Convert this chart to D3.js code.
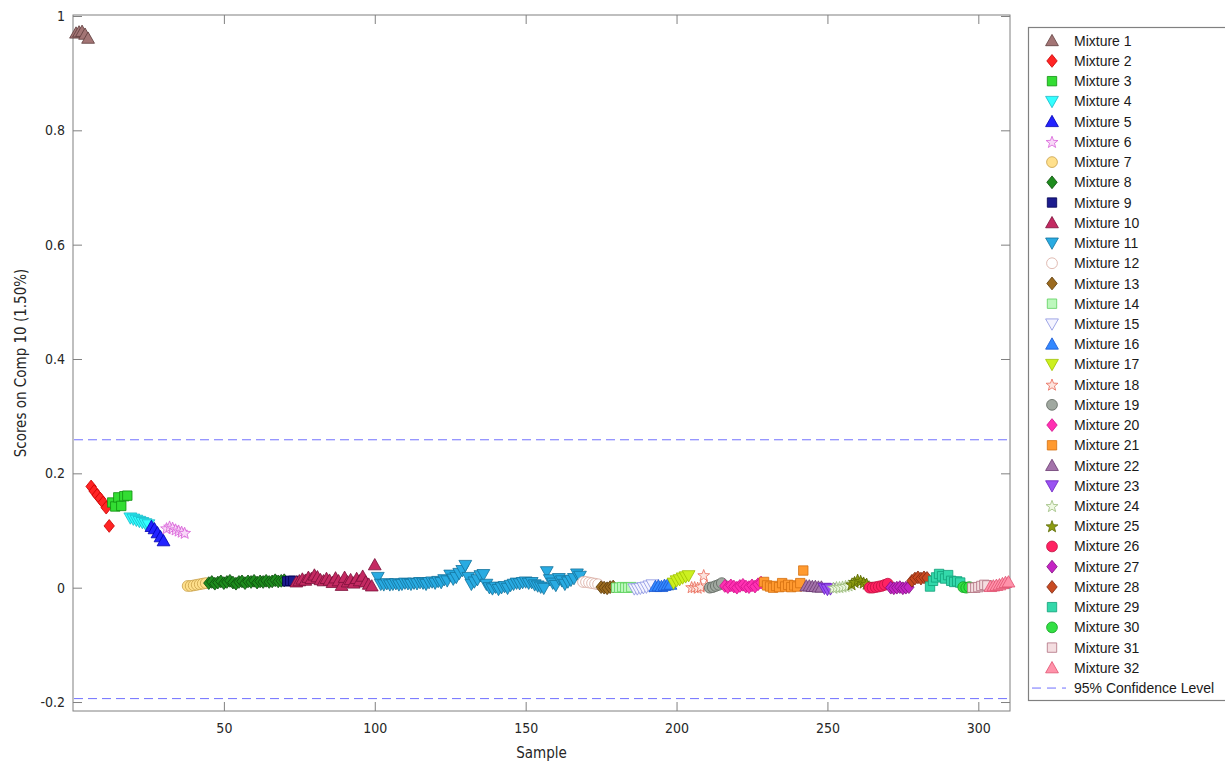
<!DOCTYPE html>
<html>
<head>
<meta charset="utf-8">
<script src="https://cdn.jsdelivr.net/npm/d3@7"></script>
<style>
  html, body { margin: 0; padding: 0; background: #fff; }
  svg { display: block; }
  .tick text { font-family: "Liberation Sans Narrow", "DejaVu Sans Condensed", "Roboto Condensed", "Open Sans", sans-serif; font-stretch: condensed; }
</style>
</head>
<body>
<svg id="chart" width="1225" height="766"></svg>
<script>
// Scores on component 10 for each sample, grouped by mixture (samples are numbered consecutively)
const mixtureNames = d3.range(1, 33).map(i => "Mixture " + i);

const mix1  = [0.970, 0.972, 0.973, 0.968, 0.961];
const mix2  = [0.177, 0.169, 0.162, 0.156, 0.149, 0.140, 0.108];
const mix3  = [0.149, 0.142, 0.158, 0.143, 0.160, 0.161];
const mix4  = [0.122, 0.120, 0.118, 0.116, 0.114, 0.112, 0.110];
const mix5  = [0.107, 0.103, 0.096, 0.089, 0.082];
const mix6  = [0.104, 0.107, 0.105, 0.102, 0.100, 0.098, 0.096];
const mix7  = [0.003, 0.003, 0.004, 0.005, 0.006, 0.007, 0.008];
const mix8  = [0.008, 0.010, 0.007, 0.009, 0.011, 0.008, 0.010, 0.012, 0.009, 0.007, 0.010, 0.011, 0.008,
               0.011, 0.010, 0.012, 0.009, 0.011, 0.010, 0.012, 0.010, 0.011, 0.013, 0.011, 0.012, 0.013];
const mix9  = [0.011, 0.012, 0.012];
const mix10 = [0.010, 0.012, 0.015, 0.013, 0.018, 0.016, 0.022, 0.019, 0.014, 0.012, 0.016, 0.013, 0.009, 0.017,
               0.012, 0.004, 0.018, 0.010, 0.014, 0.008, 0.016, 0.012, 0.020, 0.010, 0.006, 0.003, 0.040];
const mix11 = [0.018,
               0.006, 0.005, 0.007, 0.005, 0.006, 0.007, 0.005, 0.006, 0.008, 0.007, 0.006, 0.008, 0.007, 0.009,
               0.008, 0.006, 0.009, 0.010, 0.008,
               0.011, 0.009, 0.014, 0.012, 0.022, 0.015, 0.018, 0.025, 0.030, 0.039, 0.018,
               0.006, 0.010, 0.014, 0.021, 0.023, 0.006, 0.000, -0.002, 0.001, -0.003, 0.000, 0.002, -0.001,
               0.004, 0.006, 0.008, 0.007, 0.009, 0.010, 0.008, 0.009, 0.005, 0.003, 0.001, -0.001, 0.028,
               0.014, 0.008, 0.004, 0.016, 0.012, 0.006, 0.010, 0.013, 0.016, 0.024, 0.020];
const mix12 = [0.010, 0.010, 0.009, 0.008, 0.007, 0.006];
const mix13 = [0.001, 0.000, -0.001, 0.001, 0.002];
const mix14 = [0.000, 0.000, 0.001, 0.000, 0.000, 0.001];
const mix15 = [-0.002, -0.002, -0.001, 0.000, 0.001, 0.003, 0.005];
const mix16 = [0.002, 0.003, 0.002, 0.004, 0.005, 0.006];
const mix17 = [0.008, 0.012, 0.014, 0.017, 0.019, 0.021];
const mix18 = [0.001, 0.001, 0.000, 0.002, 0.022, 0.004];
const mix19 = [0.000, 0.001, 0.003, 0.005, 0.008];
const mix20 = [0.003, 0.001, 0.004, 0.002, 0.000, 0.003, 0.005, 0.002, 0.001, 0.004, 0.002, 0.006, 0.009];
const mix21 = [0.010, 0.004, 0.002, 0.000, 0.003, 0.001, 0.008, 0.002, 0.005, 0.001, 0.004, 0.002, 0.008, 0.030];
const mix22 = [0.003, 0.003, 0.002, 0.002, 0.001, 0.001];
const mix23 = [-0.001, -0.003, -0.002];
const mix24 = [0.000, 0.001, 0.001, 0.002, 0.003, 0.004];
const mix25 = [0.006, 0.010, 0.014, 0.012, 0.009, 0.007];
const mix26 = [0.000, 0.000, 0.001, 0.002, 0.003, 0.005, 0.007];
const mix27 = [0.000, -0.001, 0.000, 0.001, -0.001, 0.000, 0.001];
const mix28 = [0.012, 0.016, 0.018, 0.016, 0.018, 0.017];
const mix29 = [0.002, 0.012, 0.018, 0.024, 0.020, 0.016, 0.022, 0.012, 0.010, 0.011, 0.009];
const mix30 = [0.001, 0.000, 0.001];
const mix31 = [0.000, 0.000, 0.001, 0.003, 0.005, 0.004];
const mix32 = [0.002, 0.003, 0.004, 0.005, 0.007, 0.009, 0.010];

const mixtureScores = [mix1, mix2, mix3, mix4, mix5, mix6, mix7, mix8, mix9, mix10, mix11, mix12, mix13, mix14,
  mix15, mix16, mix17, mix18, mix19, mix20, mix21, mix22, mix23, mix24, mix25, mix26, mix27, mix28, mix29,
  mix30, mix31, mix32];

// 95% confidence limits
const confidenceLimits = [0.2587, -0.194];
const confidenceLabel = "95% Confidence Level";

const xTicks = [50, 100, 150, 200, 250, 300];
const yTicks = [-0.2, 0, 0.2, 0.4, 0.6, 0.8, 1];
const yTickLabels = ["-0.2", "0", "0.2", "0.4", "0.6", "0.8", "1"];

// marker style per mixture: [shape, fill, stroke]
const markerStyles = [
  ["tri",   "#a37575", "#5e3c3c"],
  ["dia",   "#ff2424", "#c80000"],
  ["sq",    "#33dd33", "#129012"],
  ["tridn", "#33ffff", "#1ab8c8"],
  ["tri",   "#2323ff", "#0000b0"],
  ["star",  "#f8d8f8", "#d860d8"],
  ["circ",  "#ffe08c", "#c8a048"],
  ["dia",   "#1e8c1e", "#0b4a0b"],
  ["sq",    "#1c1c8e", "#000050"],
  ["tri",   "#c42a62", "#7a0f38"],
  ["tridn", "#29abe2", "#13729c"],
  ["circ",  "#ffffff", "#d8aaa0"],
  ["dia",   "#9b6a1f", "#5a3a08"],
  ["sq",    "#bdf8bd", "#5cd05c"],
  ["tridn", "#f4f4ff", "#8890e0"],
  ["tri",   "#3388ff", "#1a58d0"],
  ["tridn", "#ccf020", "#9ec000"],
  ["star",  "#fde4de", "#e86a58"],
  ["circ",  "#a0a8a0", "#5e665e"],
  ["dia",   "#ff30b2", "#d0108a"],
  ["sq",    "#ff9a30", "#d47010"],
  ["tri",   "#a373aa", "#6a3a70"],
  ["tridn", "#9a52f2", "#6a20c0"],
  ["star",  "#eef8e2", "#9cbc7c"],
  ["star",  "#8c9c12", "#5a6a00"],
  ["circ",  "#ff2262", "#c01040"],
  ["dia",   "#c424c4", "#801080"],
  ["dia",   "#c84a22", "#802a10"],
  ["sq",    "#33d8aa", "#10a078"],
  ["circ",  "#33e044", "#10a020"],
  ["sq",    "#f4dde0", "#b07080"],
  ["tri",   "#ff92aa", "#e05070"]
];

function markerPath(shape) {
  switch (shape) {
    case "tri":   return "M0,-6.3L6.4,5L-6.4,5Z";
    case "tridn": return "M0,6.3L6.4,-5L-6.4,-5Z";
    case "dia":   return "M0,-6.4L5.2,0L0,6.4L-5.2,0Z";
    case "sq":    return "M-4.7,-4.7H4.7V4.7H-4.7Z";
    case "circ":  return d3.arc()({innerRadius: 0, outerRadius: 5.4, startAngle: 0, endAngle: 2 * Math.PI});
    case "star": {
      const pts = d3.range(10).map(i => {
        const r = i % 2 === 0 ? 6.2 : 2.6;
        const a = -Math.PI / 2 + i * Math.PI / 5;
        return [r * Math.cos(a), r * Math.sin(a) + 0.6];
      });
      return "M" + pts.map(p => p[0].toFixed(2) + "," + p[1].toFixed(2)).join("L") + "Z";
    }
  }
}

// flatten into consecutive samples
const points = [];
let sample = 1;
mixtureScores.forEach((vals, m) => {
  vals.forEach(v => { points.push({sample: sample++, score: v, mix: m}); });
});

const svg = d3.select("#chart");
const plot = {left: 73, right: 1010, top: 15, bottom: 711};

const x = d3.scaleLinear().domain([0, 310.5]).range([plot.left, plot.right]);
const y = d3.scaleLinear().domain([-0.2157, 1.0017]).range([plot.bottom, plot.top]);

const axisColor = "#808080";
const tickLen = 9;

// axes with inward ticks
const gx = svg.append("g").attr("transform", `translate(0,${plot.bottom})`)
  .call(d3.axisBottom(x).tickValues(xTicks).tickSize(-tickLen).tickSizeOuter(0).tickPadding(12).tickFormat(d3.format("d")));
const gy = svg.append("g").attr("transform", `translate(${plot.left},0)`)
  .call(d3.axisLeft(y).tickValues(yTicks).tickSize(-tickLen).tickSizeOuter(0).tickPadding(8)
    .tickFormat((d, i) => yTickLabels[i]));
const gxTop = svg.append("g").attr("transform", `translate(0,${plot.top})`)
  .call(d3.axisTop(x).tickValues(xTicks).tickSize(-tickLen).tickSizeOuter(0).tickFormat(""));
const gyRight = svg.append("g").attr("transform", `translate(${plot.right},0)`)
  .call(d3.axisRight(y).tickValues(yTicks).tickSize(-tickLen).tickSizeOuter(0).tickFormat(""));

[gx, gy, gxTop, gyRight].forEach(g => {
  g.select(".domain").remove();
  g.selectAll(".tick line").attr("stroke", axisColor);
  g.selectAll(".tick text").attr("fill", "#262626").attr("font-size", 14);
});

svg.append("rect")
  .attr("x", plot.left).attr("y", plot.top)
  .attr("width", plot.right - plot.left).attr("height", plot.bottom - plot.top)
  .attr("fill", "none").attr("stroke", axisColor).attr("stroke-width", 1);

// confidence limit lines
svg.append("g").selectAll("line").data(confidenceLimits).join("line")
  .attr("x1", plot.left + 1).attr("x2", plot.right - 1)
  .attr("y1", d => y(d)).attr("y2", d => y(d))
  .attr("stroke", "#7070ff").attr("stroke-width", 1)
  .attr("stroke-dasharray", "9,5");

// sample markers
svg.append("g").selectAll("path").data(points).join("path")
  .attr("transform", d => `translate(${x(d.sample)},${y(d.score)})`)
  .attr("d", d => markerPath(markerStyles[d.mix][0]))
  .attr("fill", d => markerStyles[d.mix][1])
  .attr("stroke", d => markerStyles[d.mix][2])
  .attr("stroke-width", 0.8);

// axis titles
const titleFont = '"Liberation Sans Narrow", "DejaVu Sans Condensed", "Open Sans", sans-serif';
svg.append("text")
  .attr("x", (plot.left + plot.right) / 2).attr("y", 758)
  .attr("text-anchor", "middle")
  .attr("font-family", titleFont).attr("font-stretch", "condensed").attr("font-size", 15).attr("fill", "#262626")
  .text("Sample");
svg.append("text")
  .attr("transform", `translate(26,${(plot.top + plot.bottom) / 2}) rotate(-90)`)
  .attr("text-anchor", "middle")
  .attr("font-family", titleFont).attr("font-stretch", "condensed").attr("font-size", 15).attr("fill", "#262626")
  .text("Scores on Comp 10 (1.50%)");

// legend
const legend = svg.append("g");
const rowH = 20.23, legTop = 40.7, markX = 1052, textX = 1074;
legend.append("rect")
  .attr("x", 1028.5).attr("y", 27.5).attr("width", 220).attr("height", 673)
  .attr("fill", "#fff").attr("stroke", axisColor).attr("stroke-width", 1.2);

const rows = legend.selectAll("g.row").data(mixtureNames).join("g")
  .attr("class", "row")
  .attr("transform", (d, i) => `translate(0,${legTop + i * rowH})`);
rows.append("path")
  .attr("transform", `translate(${markX},0)`)
  .attr("d", (d, i) => markerPath(markerStyles[i][0]))
  .attr("fill", (d, i) => markerStyles[i][1])
  .attr("stroke", (d, i) => markerStyles[i][2])
  .attr("stroke-width", 0.8);
rows.append("text")
  .attr("x", textX).attr("y", 0).attr("dy", "0.36em")
  .attr("font-family", '"Liberation Sans", Arial, sans-serif').attr("font-size", 14).attr("fill", "#1a1a1a")
  .text(d => d);

const confY = legTop + mixtureNames.length * rowH;
legend.append("line")
  .attr("x1", 1032).attr("x2", 1066).attr("y1", confY).attr("y2", confY)
  .attr("stroke", "#7070ff").attr("stroke-width", 1).attr("stroke-dasharray", "9,6");
legend.append("text")
  .attr("x", textX).attr("y", confY).attr("dy", "0.36em")
  .attr("font-family", '"Liberation Sans", Arial, sans-serif').attr("font-size", 14).attr("fill", "#1a1a1a")
  .text(confidenceLabel);
</script>
</body>
</html>
